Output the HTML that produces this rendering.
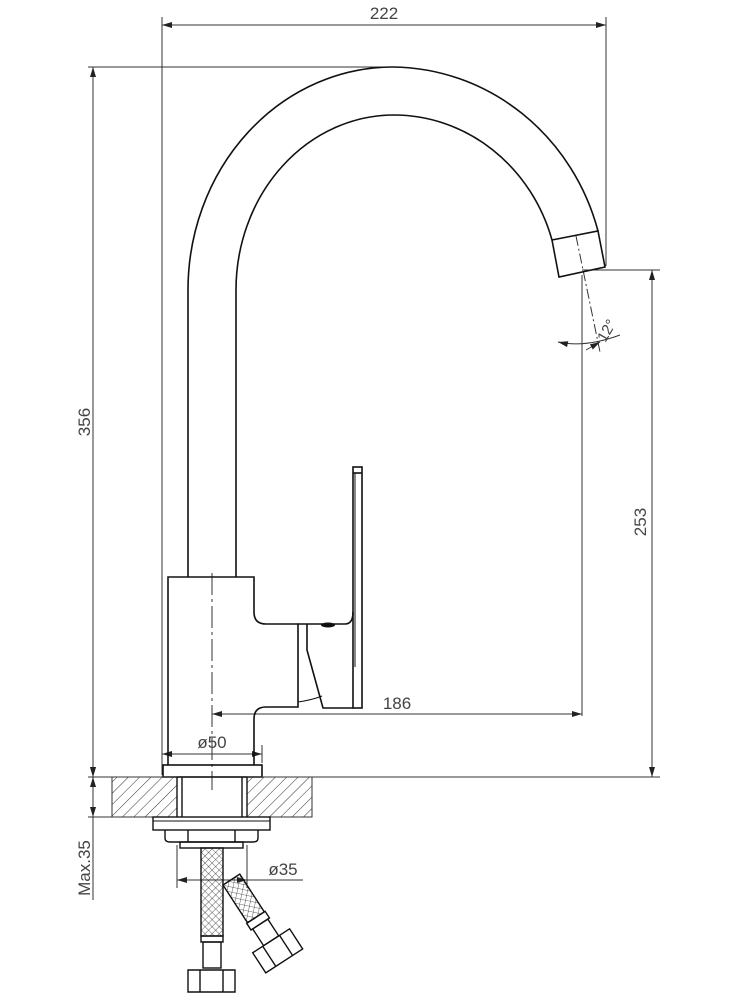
<!DOCTYPE html>
<html><head><style>body{margin:0;background:#fff}svg{display:block}</style></head>
<body>
<svg width="750" height="1000" viewBox="0 0 750 1000" xmlns="http://www.w3.org/2000/svg">
<defs>
<marker id="a" viewBox="0 0 10 6" refX="10" refY="3" markerWidth="10" markerHeight="6" orient="auto-start-reverse" markerUnits="userSpaceOnUse"><path d="M0,0L10,3L0,6z" fill="#222"/></marker>
<pattern id="h" width="8" height="8" patternUnits="userSpaceOnUse" patternTransform="rotate(45)"><line x1="0" y1="0" x2="0" y2="8" stroke="#333" stroke-width="1"/></pattern>
<pattern id="m" width="5" height="5" patternUnits="userSpaceOnUse" patternTransform="rotate(45)"><path d="M0,0V5M0,0H5" stroke="#333" stroke-width="0.8" fill="none"/></pattern>
</defs>
<g fill="none" stroke="#333" stroke-width="1">
<line x1="162" y1="17" x2="162" y2="775"/>
<line x1="606" y1="17" x2="606" y2="266"/>
<line x1="162" y1="25" x2="606" y2="25" marker-start="url(#a)" marker-end="url(#a)"/>
<line x1="88" y1="67" x2="390" y2="67"/>
<line x1="93" y1="67" x2="93" y2="777" marker-start="url(#a)" marker-end="url(#a)"/>
<line x1="88" y1="777" x2="660" y2="777"/>
<line x1="88" y1="817" x2="112" y2="817"/>
<line x1="93" y1="755" x2="93" y2="777" marker-end="url(#a)"/>
<line x1="93" y1="799" x2="93" y2="777" marker-end="url(#a)"/>
<line x1="93" y1="799" x2="93" y2="817" marker-end="url(#a)"/>
<line x1="93" y1="817" x2="93" y2="900"/>
<line x1="582" y1="270" x2="660" y2="270"/>
<line x1="652" y1="270" x2="652" y2="777" marker-start="url(#a)" marker-end="url(#a)"/>
<line x1="582" y1="275" x2="582" y2="716"/>
<line x1="212" y1="714" x2="582" y2="714" marker-start="url(#a)" marker-end="url(#a)"/>
<line x1="162" y1="754" x2="262" y2="754" marker-start="url(#a)" marker-end="url(#a)"/>
<line x1="262" y1="745" x2="262" y2="763"/>
<line x1="177" y1="880" x2="247" y2="880" marker-start="url(#a)" marker-end="url(#a)"/>
<line x1="247" y1="880" x2="303" y2="880"/>
<line x1="177" y1="845" x2="177" y2="888"/>
<line x1="247" y1="845" x2="247" y2="888"/>
<line x1="212" y1="573" x2="212" y2="790" stroke-dasharray="22,4,3,4"/>
<line x1="576" y1="236" x2="600" y2="352" stroke-dasharray="10,3,2,3"/>
<path d="M558,342 Q585,348 620,335" marker-start="url(#a)"/>
<line x1="586" y1="350" x2="600" y2="342" marker-end="url(#a)"/>
</g>
<g fill="none" stroke="#111" stroke-width="1.6">
<path d="M188,577 V290 A205 223 0 0 1 393,67 A215 223 0 0 1 598,231"/>
<path d="M236,577 V290 A158 175 0 0 1 394,115 A165 175 0 0 1 552,240"/>
<path d="M552,240 L598,231 L605,267 L559,277 Z"/>
<path d="M168,765 V577 H254 V612 Q254,624 266,624 H298 V707 H266 Q254,707 254,719 V765"/>
<rect x="163" y="765" width="99" height="12"/>
<rect x="353" y="467" width="9" height="241"/>
<line x1="353" y1="473" x2="362" y2="473"/>
<line x1="355" y1="473" x2="355" y2="667" stroke-width="1"/>
<path d="M307,624 V650 L323,708 H353"/>
<path d="M298,702 Q312,700 322,696" stroke-width="1"/>
<path d="M298,624 H345 Q353,624 353,612"/>
</g>
<ellipse cx="328" cy="625" rx="7" ry="2.5" fill="#111"/>
<rect x="112" y="777" width="65" height="40" fill="url(#h)" stroke="#333"/>
<rect x="247" y="777" width="65" height="40" fill="url(#h)" stroke="#333"/>
<g fill="none" stroke="#111" stroke-width="1.4">
<line x1="177" y1="777" x2="177" y2="817"/><line x1="182" y1="777" x2="182" y2="817"/>
<line x1="247" y1="777" x2="247" y2="817"/><line x1="242" y1="777" x2="242" y2="817"/>
<rect x="153" y="817" width="117" height="13"/>
<line x1="153" y1="821" x2="270" y2="821" stroke-width="1"/>
<path d="M165,830 V838 Q165,842 170,842 H253 Q258,842 258,838 V830"/>
<line x1="188" y1="830" x2="188" y2="842"/><line x1="235" y1="830" x2="235" y2="842"/>
<rect x="180" y="842" width="63" height="6"/>
<rect x="201" y="848" width="22" height="88" fill="url(#m)"/>
<rect x="201" y="936" width="22" height="6"/>
<rect x="203" y="942" width="18" height="26"/>
<path d="M188,970 H235 V992 H188 Z M200,970 V992 M223,970 V992"/>
<g transform="translate(223,885) rotate(-33)">
<rect x="0" y="0" width="20" height="45" fill="url(#m)"/>
<rect x="-1" y="45" width="22" height="8"/>
<rect x="1" y="53" width="18" height="20"/>
<rect x="-12" y="73" width="44" height="24"/>
<line x1="0" y1="73" x2="0" y2="97"/><line x1="20" y1="73" x2="20" y2="97"/>
</g>
</g>
<g font-family="Liberation Sans, sans-serif" font-size="17" fill="#444">
<text x="384" y="19" text-anchor="middle">222</text>
<text x="397" y="709" text-anchor="middle">186</text>
<text x="212" y="748" text-anchor="middle">ø50</text>
<text x="283" y="875" text-anchor="middle">ø35</text>
<text transform="translate(90,422) rotate(-90)" text-anchor="middle">356</text>
<text transform="translate(90,868) rotate(-90)" text-anchor="middle">Max.35</text>
<text transform="translate(646,522) rotate(-90)" text-anchor="middle">253</text>
<text transform="translate(611,333) rotate(-60)" text-anchor="middle" font-size="15">12°</text>
</g>
</svg>
</body></html>
